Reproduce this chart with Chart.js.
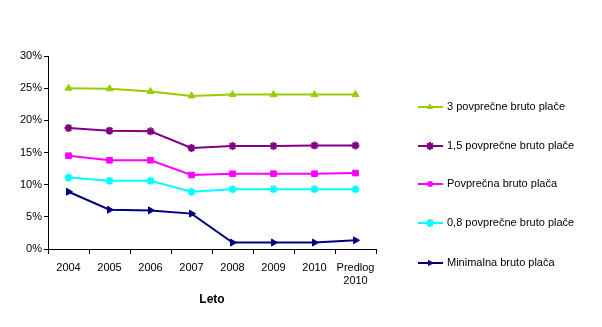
<!DOCTYPE html>
<html>
<head>
<meta charset="utf-8">
<script src="https://cdn.jsdelivr.net/npm/chart.js@4/dist/chart.umd.min.js"></script>
<style>
  html, body { margin: 0; padding: 0; background: #fff; }
  #wrap { width: 602px; height: 327px; }
</style>
</head>
<body>
<div id="wrap"><canvas id="grafPlace"></canvas></div>
<script>
// leta in deleži
const leta = ['2004', '2005', '2006', '2007', '2008', '2009', '2010', ['Predlog', '2010']]
const triPovprecne = [25.0, 24.9, 24.5, 23.8, 24.0, 24.0, 24.0, 24.0]
const enaPetPovprecne = [18.8, 18.4, 18.3, 15.7, 16.0, 16.0, 16.1, 16.1]
const povprecna = [14.5, 13.8, 13.8, 11.5, 11.7, 11.7, 11.7, 11.8]
const nicOsemPovprecne = [11.1, 10.6, 10.6, 8.9, 9.3, 9.3, 9.3, 9.3]
const minimalna = [8.9, 6.1, 6.0, 5.5, 1.0, 1.0, 1.0, 1.35]
const yTicks = [0, 5, 10, 15, 20, 25, 30]

const pisava = '"Liberation Sans", Arial, sans-serif'

function serija(label, data, barva, stil, velikost, rot) {
    return {
        label: label,
        data: data,
        borderColor: barva,
        backgroundColor: barva,
        borderWidth: 2,
        pointStyle: stil,
        pointRadius: velikost,
        pointRotation: rot || 0,
        pointBorderWidth: stil === 'star' ? 2 : 1,
        tension: 0
    }
}

const serije = [
    serija('3 povprečne bruto plače', triPovprecne, '#99CC00', 'triangle', 4),
    serija('1,5 povprečne bruto plače', enaPetPovprecne, '#800080', 'star', 4),
    serija('Povprečna bruto plača', povprecna, '#FF00FF', 'rect', 4),
    serija('0,8 povprečne bruto plače', nicOsemPovprecne, '#00FFFF', 'star', 4),
    serija('Minimalna bruto plača', minimalna, '#000080', 'triangle', 4, 90)
]

// legenda na desni: črta z oznako in besedilo
const legendaDesno = {
    id: 'legendaDesno',
    afterDraw(chart) {
        const ctx = chart.ctx
        const ys = [107, 146, 184, 223, 263]
        ctx.save()
        chart.data.datasets.forEach((ds, i) => {
            const y = ys[i]
            ctx.strokeStyle = ds.borderColor
            ctx.lineWidth = 2
            ctx.beginPath()
            ctx.moveTo(418, y)
            ctx.lineTo(443, y)
            ctx.stroke()
            ctx.fillStyle = ds.backgroundColor
            ctx.lineWidth = ds.pointBorderWidth
            Chart.helpers.drawPoint(ctx, {
                pointStyle: ds.pointStyle,
                radius: ds.pointStyle === 'star' ? 4 : 3,
                rotation: ds.pointRotation,
                borderWidth: ds.pointBorderWidth
            }, 430, y)
            ctx.fillStyle = '#000'
            ctx.font = '11px ' + pisava
            ctx.textBaseline = 'middle'
            ctx.textAlign = 'left'
            ctx.fillText(ds.label, 447, y)
        })
        ctx.restore()
    }
}

const ctx = document.getElementById('grafPlace').getContext('2d')
const graf = new Chart(ctx, {
    type: 'line',
    data: {
        labels: leta,
        datasets: serije
    },
    options: {
        responsive: true,
        maintainAspectRatio: false,
        animation: false,
        layout: {
            padding: { left: 0, top: 56, right: 226, bottom: 20 }
        },
        plugins: {
            legend: { display: false },
            tooltip: { enabled: false }
        },
        scales: {
            x: {
                offset: true,
                grid: {
                    offset: true,
                    drawOnChartArea: false,
                    tickLength: 5,
                    color: '#000'
                },
                border: { color: '#000', width: 1 },
                ticks: {
                    color: '#000',
                    font: { family: pisava, size: 11 },
                    maxRotation: 0,
                    autoSkip: false,
                    padding: 7
                },
                title: {
                    display: true,
                    text: 'Leto',
                    color: '#000',
                    font: { family: pisava, size: 12, weight: 'bold' },
                    padding: { top: 4, bottom: 0 }
                },
                afterFit(scale) { scale.height = 58 }
            },
            y: {
                min: 0,
                max: 30,
                afterBuildTicks(scale) {
                    scale.ticks = yTicks.map(v => ({ value: v }))
                },
                grid: {
                    drawOnChartArea: false,
                    tickLength: 4,
                    color: '#000'
                },
                border: { color: '#000', width: 1 },
                ticks: {
                    color: '#000',
                    font: { family: pisava, size: 11 },
                    padding: 2,
                    callback: v => v + '%'
                },
                afterFit(scale) { scale.width = 48 }
            }
        }
    },
    plugins: [legendaDesno]
})
</script>
</body>
</html>
